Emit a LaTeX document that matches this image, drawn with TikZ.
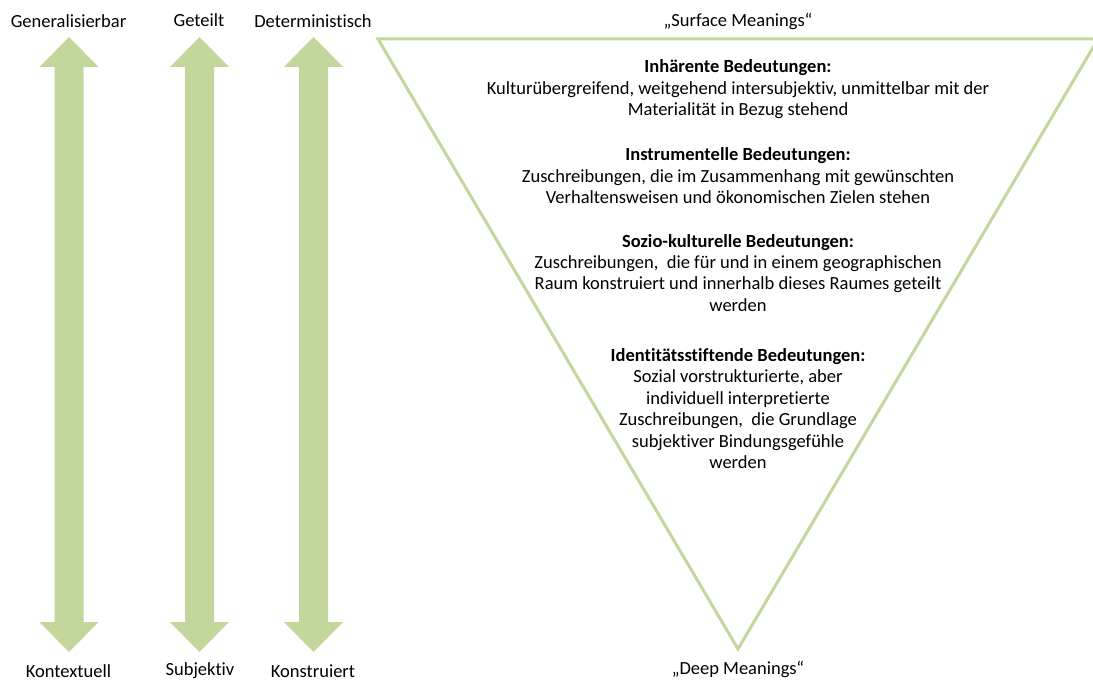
\documentclass[tikz,border=0pt]{standalone}
\usepackage{fontspec}
\setmainfont[Ligatures=NoCommon]{Carlito}
\definecolor{leaf}{HTML}{C3D69B}
\begin{document}
\begin{tikzpicture}[x=1pt,y=-1pt,
  lbl/.style={inner sep=0pt,anchor=base,font=\fontsize{18.5}{21.5}\selectfont},
  blk/.style={inner sep=0pt,anchor=base,font=\fontsize{18.5}{21.5}\selectfont,align=center}]
\useasboundingbox (0,0) rectangle (1093,682);
\clip (0,0) rectangle (1093,682);
\fill[white] (0,0) rectangle (1093,682);

% double-headed vertical arrows
\newcommand{\dblarrow}[1]{%
  \fill[leaf] (#1,37) -- (#1+29.5,67) -- (#1+14.5,67) -- (#1+14.5,622)
    -- (#1+29.5,622) -- (#1,652) -- (#1-29.5,622) -- (#1-14.5,622)
    -- (#1-14.5,67) -- (#1-29.5,67) -- cycle;}
\dblarrow{69}
\dblarrow{199.5}
\dblarrow{313.5}

% pole labels
\node[lbl] (gen) at (68.5,28) {Generalisierbar};
\node[lbl] (get) at (199,27) {Geteilt};
\node[lbl] (det) at (313,28) {Deterministisch};
\node[lbl] (kon) at (68.5,677) {Kontextuell};
\node[lbl] (sub) at (200,675) {Subjektiv};
\node[lbl] (kns) at (313,677) {Konstruiert};

% inverted triangle
\coordinate (tl) at (378,39);
\coordinate (tr) at (1098,39);
\coordinate (bt) at (738,649);
\draw[leaf,line width=3pt] (tl) -- (tr) -- (bt) -- cycle;

\node[lbl] (surf) at (738,27) {„Surface Meanings“};
\node[lbl] (deep) at (738,674) {„Deep Meanings“};

% meaning layers
\node[blk] (inh) at (738,73) {\begin{tabular}[t]{@{}c@{}}\textbf{Inhärente Bedeutungen:}\\
Kulturübergreifend, weitgehend intersubjektiv, unmittelbar mit der\\
Materialität in Bezug stehend\end{tabular}};
\node[blk] (ins) at (738,161) {\begin{tabular}[t]{@{}c@{}}\textbf{Instrumentelle Bedeutungen:}\\
Zuschreibungen, die im Zusammenhang mit gewünschten\\
Verhaltensweisen und ökonomischen Zielen stehen\end{tabular}};
\node[blk] (soz) at (738,247) {\begin{tabular}[t]{@{}c@{}}\textbf{Sozio-kulturelle Bedeutungen:}\\
Zuschreibungen,~ die für und in einem geographischen\\
Raum konstruiert und innerhalb dieses Raumes geteilt\\
werden\end{tabular}};
\node[blk] (ide) at (738,361) {\begin{tabular}[t]{@{}c@{}}\textbf{Identitätsstiftende Bedeutungen:}\\
Sozial vorstrukturierte, aber\\
individuell interpretierte\\
Zuschreibungen,~ die Grundlage\\
subjektiver Bindungsgefühle\\
werden\end{tabular}};
\end{tikzpicture}
\end{document}
